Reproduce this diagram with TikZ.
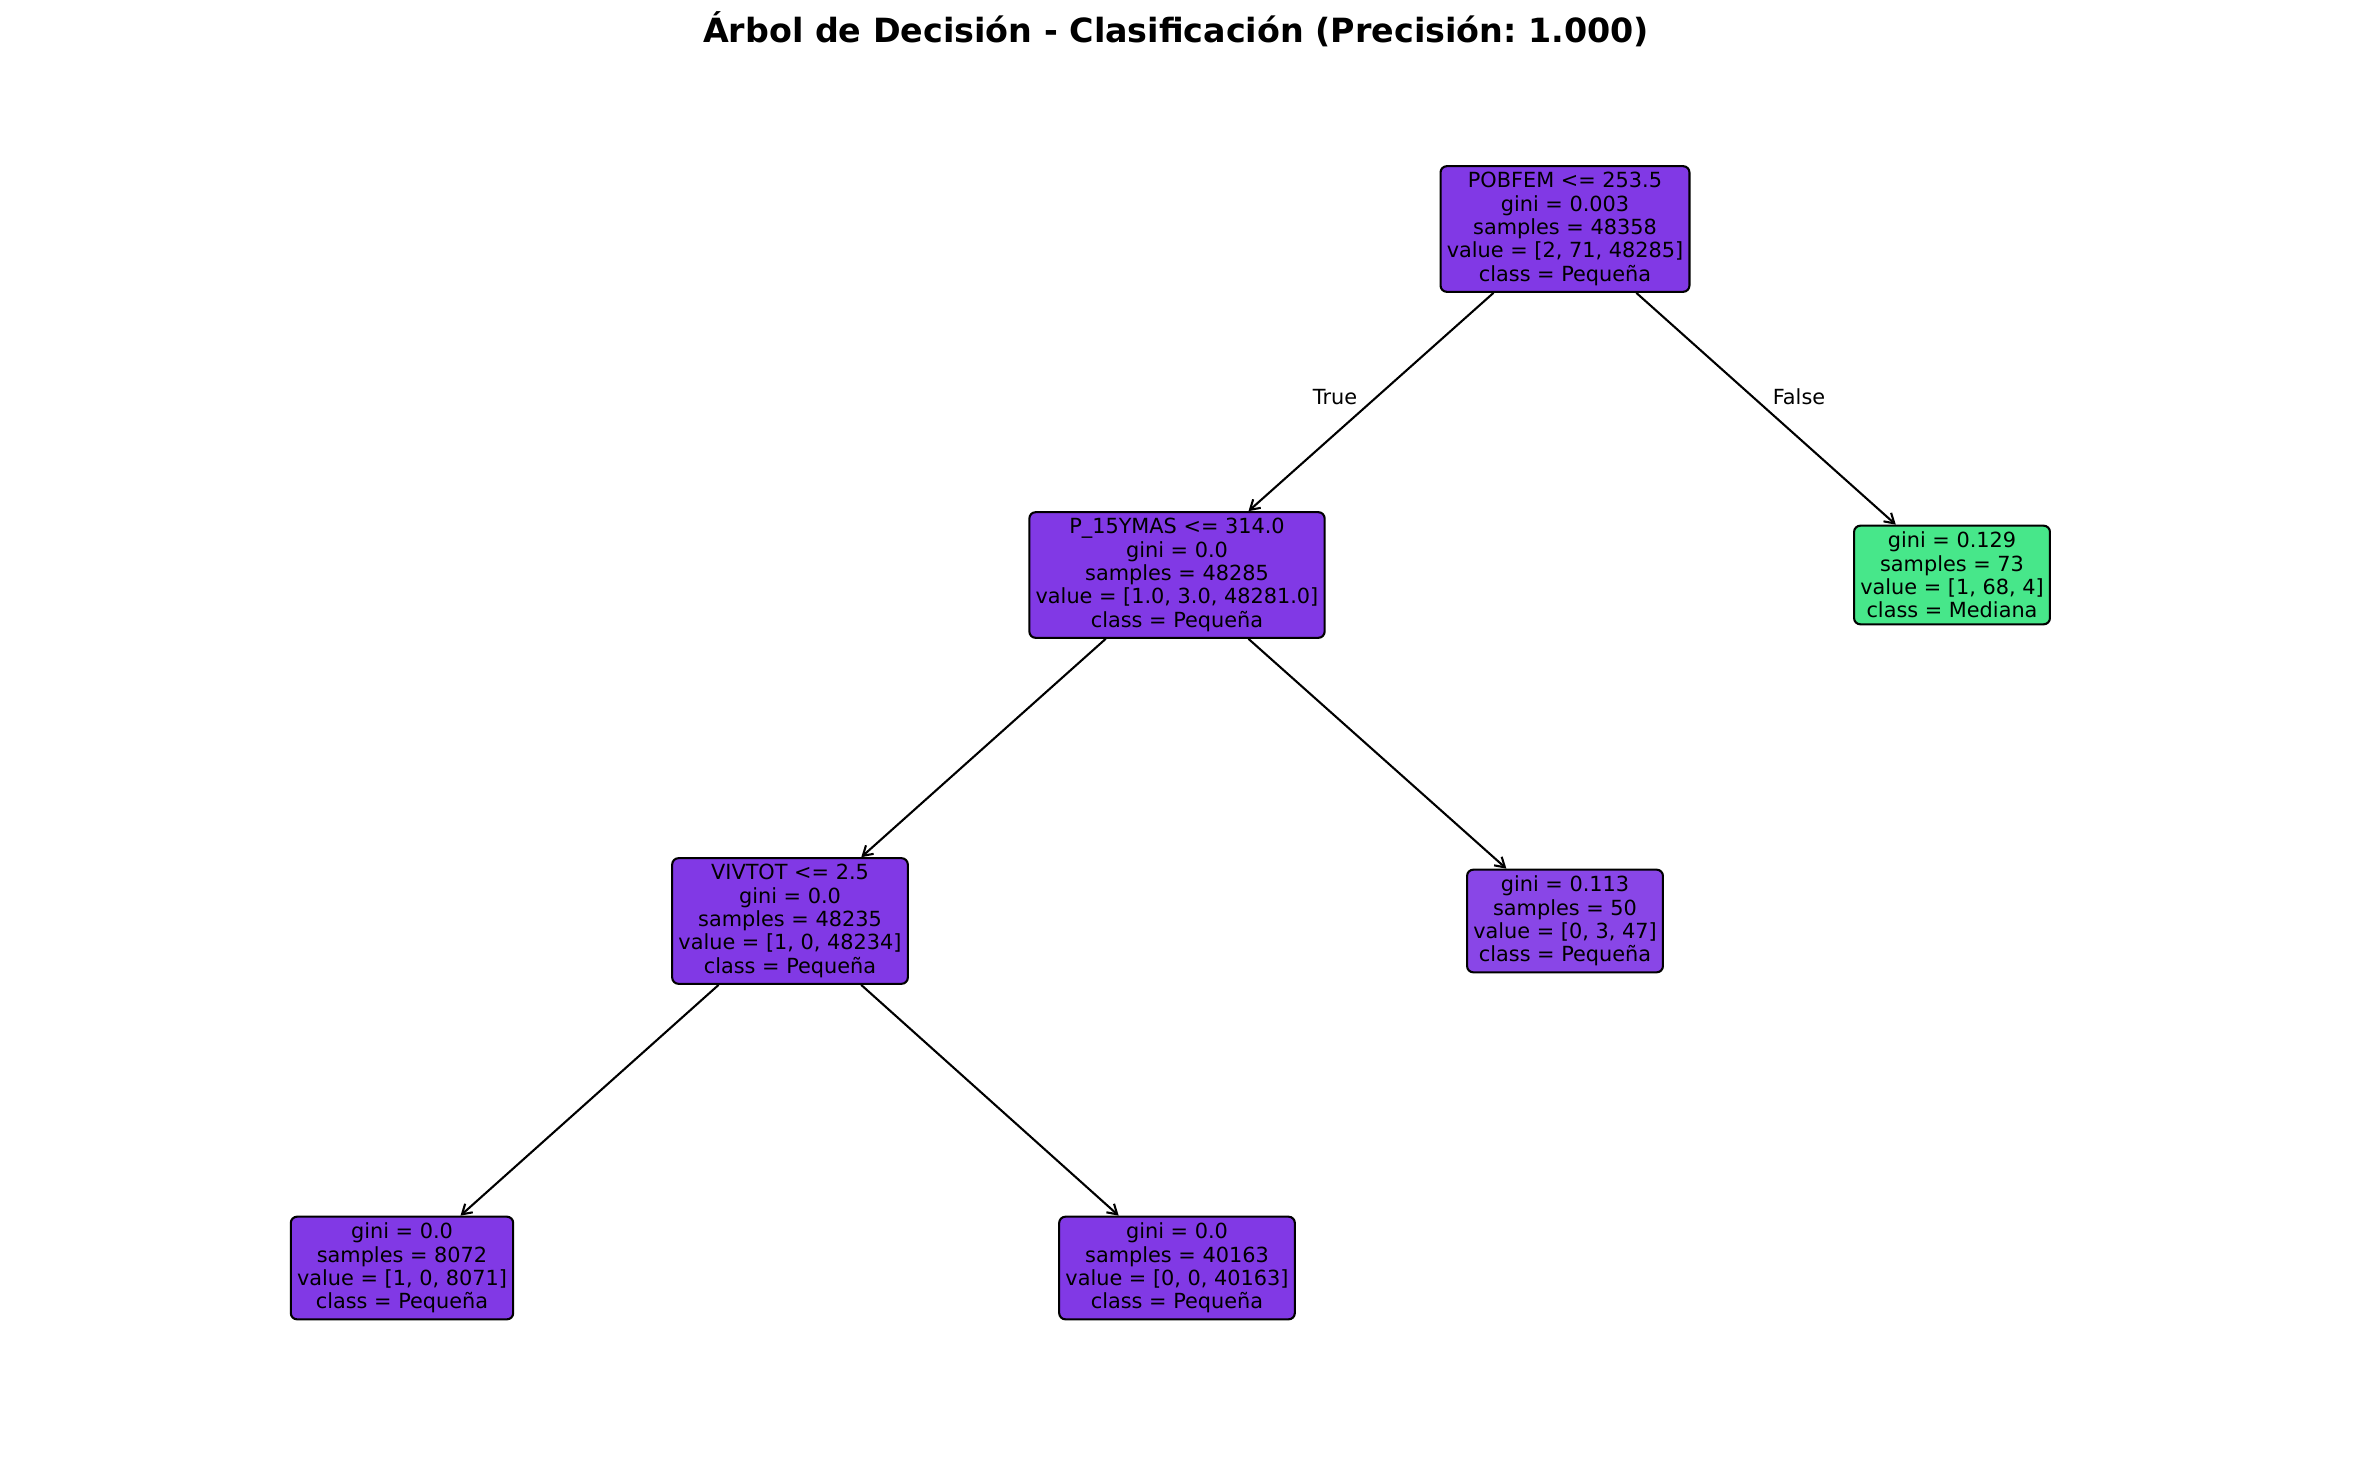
\documentclass[tikz,border=0pt]{standalone}
\usepackage{fontspec}
\setmainfont{DejaVu Sans}
\usetikzlibrary{arrows.meta}
\definecolor{pequena}{RGB}{129,57,229}
\definecolor{pequenalt}{RGB}{137,70,231}
\definecolor{mediana}{RGB}{71,231,138}
\frenchspacing
\begin{document}
\begin{tikzpicture}[x=0.48pt,y=-0.48pt,
  box/.style={draw, line width=1pt, rounded corners=3pt, inner sep=3pt, align=center,
    font=\fontsize{10}{11.2}\selectfont},
  edge/.style={line width=1pt, -{Straight Barb[length=4.5pt,width=5.5pt]}}]
\useasboundingbox (0,0) rectangle (2355,1457);
\node[anchor=base, font=\bfseries\fontsize{16}{19}\selectfont] (title) at (1176,43) {Árbol de Decisión - Clasificación (Precisión: 1.000)};
\node[box, fill=pequena] (1) at (1565,229) {POBFEM <= 253.5\\gini = 0.003\\samples = 48358\\value = [2, 71, 48285]\\class = Pequeña};
\node[box, fill=pequena] (2) at (1177,575) {P\_15YMAS <= 314.0\\gini = 0.0\\samples = 48285\\value = [1.0, 3.0, 48281.0]\\class = Pequeña};
\node[box, fill=mediana] (3) at (1952,575) {gini = 0.129\\samples = 73\\value = [1, 68, 4]\\class = Mediana};
\node[box, fill=pequena] (4) at (790,921) {VIVTOT <= 2.5\\gini = 0.0\\samples = 48235\\value = [1, 0, 48234]\\class = Pequeña};
\node[box, fill=pequenalt] (5) at (1565,921) {gini = 0.113\\samples = 50\\value = [0, 3, 47]\\class = Pequeña};
\node[box, fill=pequena] (6) at (402,1268) {gini = 0.0\\samples = 8072\\value = [1, 0, 8071]\\class = Pequeña};
\node[box, fill=pequena] (7) at (1177,1268) {gini = 0.0\\samples = 40163\\value = [0, 0, 40163]\\class = Pequeña};
\node[font=\fontsize{10}{12}\selectfont] (t) at (1335,397) {True};
\node[font=\fontsize{10}{12}\selectfont] (f) at (1799,397) {False};
\path[draw,edge] (1) -- (2);
\path[draw,edge] (1) -- (3);
\path[draw,edge] (2) -- (4);
\path[draw,edge] (2) -- (5);
\path[draw,edge] (4) -- (6);
\path[draw,edge] (4) -- (7);
\end{tikzpicture}
\end{document}
